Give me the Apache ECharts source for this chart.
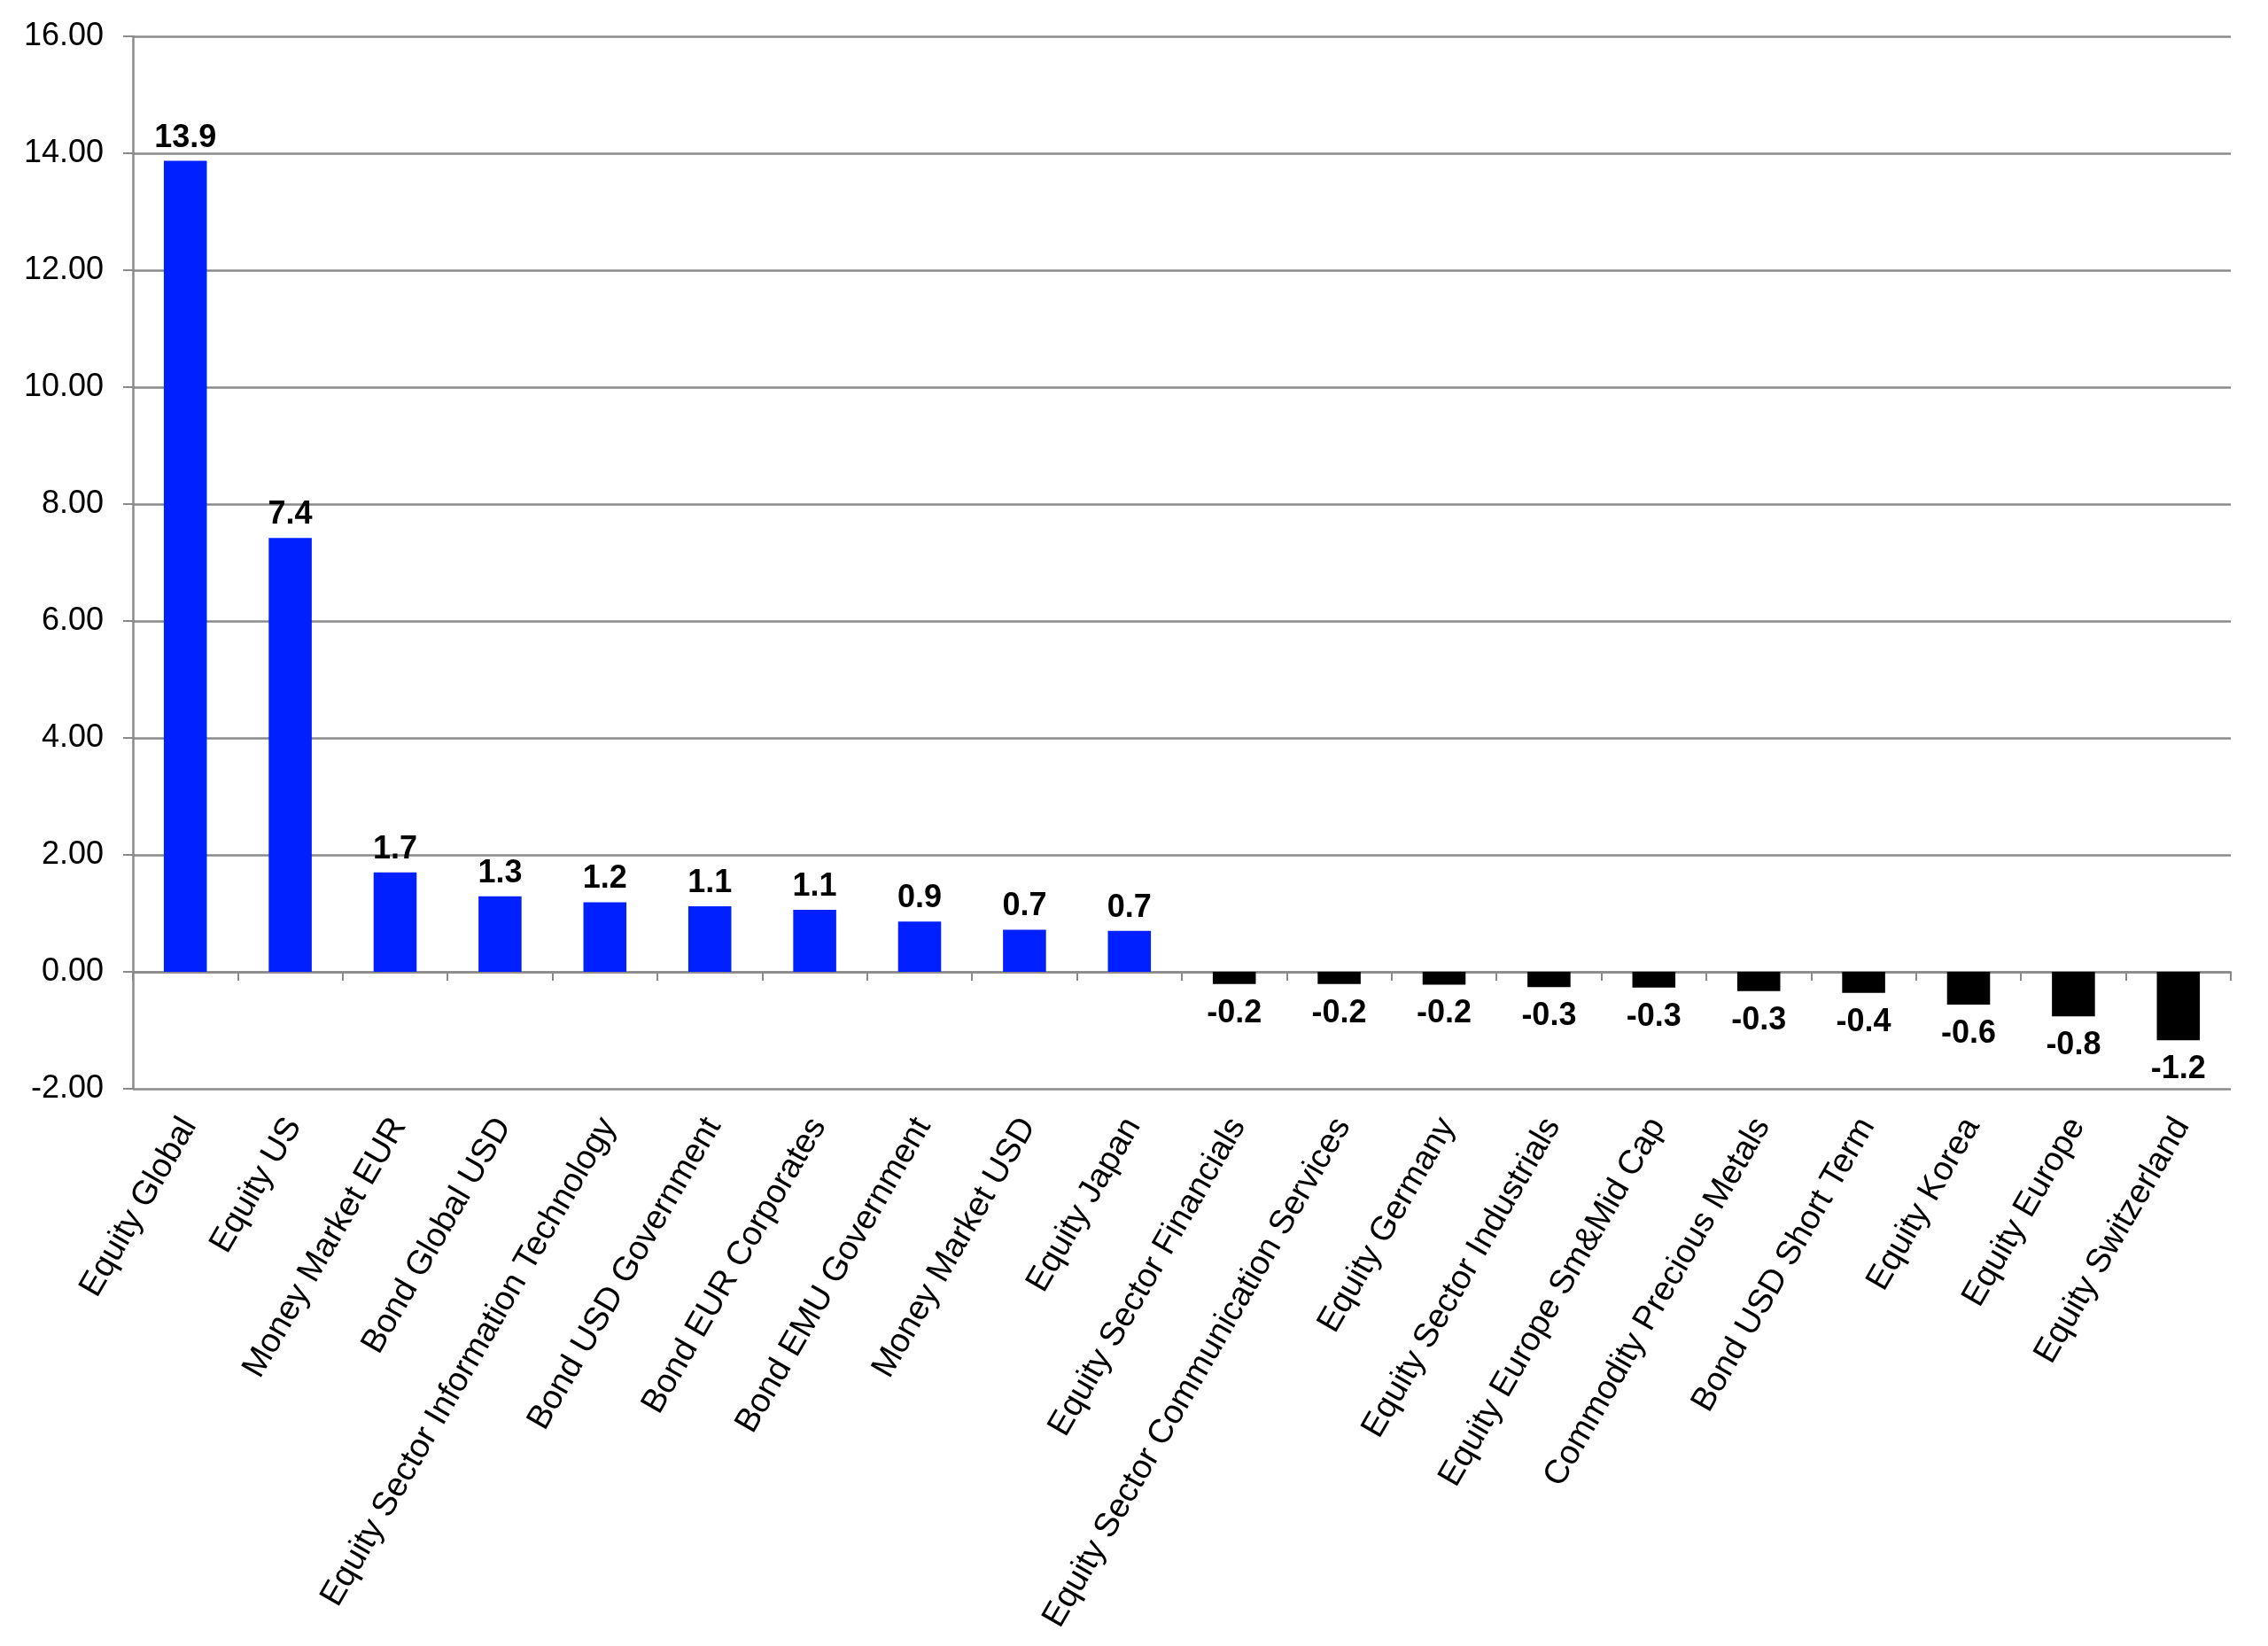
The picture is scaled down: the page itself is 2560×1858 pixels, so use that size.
<!DOCTYPE html>
<html>
<head>
<meta charset="utf-8">
<script src="https://cdn.jsdelivr.net/npm/echarts@6/dist/echarts.min.js"></script>
<style>
  html, body { margin: 0; padding: 0; background: #ffffff; }
  #chart { width: 2560px; height: 1858px; }
</style>
</head>
<body>
<div id="chart"></div>
<script>
const categories = [
  "Equity Global", "Equity US", "Money Market EUR", "Bond Global USD",
  "Equity Sector Information Technology", "Bond USD Government", "Bond EUR Corporates",
  "Bond EMU Government", "Money Market USD", "Equity Japan", "Equity Sector Financials",
  "Equity Sector Communication Services", "Equity Germany", "Equity Sector Industrials",
  "Equity Europe Sm&Mid Cap", "Commodity Precious Metals", "Bond USD Short Term",
  "Equity Korea", "Equity Europe", "Equity Switzerland"
];
const flowValues = [
  13.87, 7.42, 1.70, 1.29, 1.19, 1.12, 1.06, 0.86, 0.72, 0.70,
  -0.21, -0.21, -0.22, -0.26, -0.27, -0.33, -0.36, -0.56, -0.76, -1.17
];
const yMin = -2, yMax = 16, yStep = 2;

const POS_COLOR = '#0020FF';
const NEG_COLOR = '#000000';
const GRID_COLOR = '#8a8a8a';
const FONT = "'Liberation Sans', Arial, sans-serif";

const barData = flowValues.map(v => ({
  value: v,
  itemStyle: { color: v >= 0 ? POS_COLOR : NEG_COLOR },
  label: v >= 0 ? { position: 'top', distance: 8 } : { position: 'bottom', distance: 15 }
}));

const chart = echarts.init(document.getElementById('chart'), null, { renderer: 'canvas' });
chart.setOption({
  animation: false,
  backgroundColor: '#ffffff',
  grid: [
    { left: 150, right: 42, top: 41, bottom: 629 },
    { left: 154, right: 38, top: 41, bottom: 629 }
  ],
  xAxis: [
    {
      type: 'category', gridIndex: 0, data: categories, position: 'bottom',
      axisLine: { onZero: true, lineStyle: { color: GRID_COLOR, width: 2.5 } },
      axisTick: { show: true, interval: 0, length: 10, lineStyle: { color: GRID_COLOR, width: 2 } },
      axisLabel: { show: false, interval: 0 },
      splitLine: { show: false }
    },
    {
      type: 'category', gridIndex: 1, data: categories, position: 'bottom',
      axisLine: { show: false, onZero: false },
      axisTick: { show: false },
      axisLabel: {
        show: true, interval: 0, rotate: 60, margin: 36,
        fontSize: 38, fontFamily: FONT, color: '#000000'
      },
      splitLine: { show: false }
    }
  ],
  yAxis: [
    {
      type: 'value', gridIndex: 0, min: yMin, max: yMax, interval: yStep,
      axisLine: { show: true, lineStyle: { color: GRID_COLOR, width: 2.5 } },
      axisTick: { show: true, length: 11, lineStyle: { color: GRID_COLOR, width: 2 } },
      axisLabel: {
        fontSize: 36, fontFamily: FONT, color: '#000000', margin: 33,
        formatter: v => v.toFixed(2)
      },
      splitLine: { show: true, lineStyle: { color: GRID_COLOR, width: 2.5 } }
    },
    {
      type: 'value', gridIndex: 1, min: yMin, max: yMax, interval: yStep, show: false
    }
  ],
  series: [
    {
      type: 'bar', xAxisIndex: 0, yAxisIndex: 0,
      data: barData,
      barWidth: '41%',
      label: {
        show: true, fontSize: 36, fontWeight: 'bold', fontFamily: FONT, color: '#000000',
        formatter: p => p.value.toFixed(1)
      }
    }
  ]
});
</script>
</body>
</html>
